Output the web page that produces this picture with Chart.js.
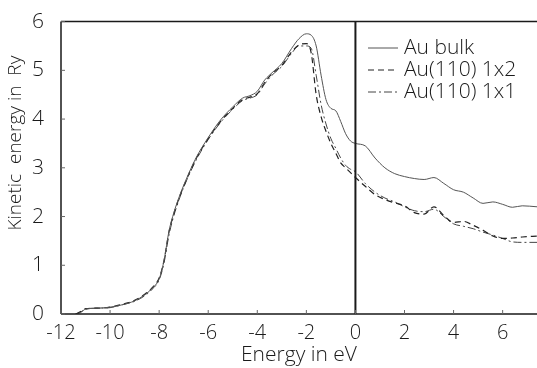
<!DOCTYPE html>
<html lang="en">
<head>
<meta charset="UTF-8">
<title>Kinetic energy vs energy</title>
<style>
  html, body { margin: 0; padding: 0; background: #fff; }
  #wrap { width: 537px; height: 368px; }
</style>
</head>
<body>
<div id="wrap"><canvas id="chart"></canvas></div>
<script src="https://cdn.jsdelivr.net/npm/chart.js"></script>
<script>
// energy grid (eV)
var energies = [-11.4, -11.2, -11.0, -10.5, -10.0, -9.5, -9.0, -8.6, -8.3, -8.0, -7.8, -7.6, -7.4, -7.2, -7.0,
  -6.5, -6.0, -5.5, -5.0, -4.6, -4.3, -4.0, -3.7, -3.4, -3.0, -2.6, -2.3, -2.0, -1.8, -1.6, -1.4, -1.2,
  -1.0, -0.8, -0.6, -0.4, -0.2, 0.0, 0.4, 0.8, 1.2, 1.6, 2.0, 2.4, 2.8, 3.2, 3.6, 4.0, 4.4, 4.8, 5.2,
  5.6, 6.0, 6.4, 6.8, 7.4];

// kinetic energy (Ry)
var auBulk = [0, 0.03, 0.10, 0.12, 0.14, 0.19, 0.27, 0.39, 0.52, 0.72, 1.10, 1.70, 2.08, 2.38, 2.64,
  3.20, 3.62, 3.98, 4.25, 4.43, 4.48, 4.57, 4.80, 4.95, 5.14, 5.45, 5.65, 5.75, 5.72, 5.50, 4.90, 4.40,
  4.22, 4.17, 3.95, 3.70, 3.55, 3.50, 3.45, 3.20, 3.00, 2.88, 2.82, 2.78, 2.76, 2.80, 2.68, 2.55, 2.50,
  2.38, 2.27, 2.30, 2.25, 2.19, 2.22, 2.20];
var au110_1x2 = [0, 0.05, 0.11, 0.12, 0.14, 0.20, 0.28, 0.40, 0.53, 0.74, 1.10, 1.68, 2.06, 2.36, 2.62,
  3.18, 3.60, 3.95, 4.22, 4.40, 4.45, 4.52, 4.75, 4.93, 5.10, 5.38, 5.52, 5.55, 5.35, 4.50, 4.05, 3.75,
  3.50, 3.30, 3.10, 3.00, 2.90, 2.80, 2.62, 2.45, 2.35, 2.28, 2.22, 2.08, 2.05, 2.20, 2.02, 1.88, 1.90,
  1.82, 1.72, 1.60, 1.55, 1.56, 1.58, 1.60];
var au110_1x1 = [0, 0.04, 0.10, 0.12, 0.13, 0.19, 0.26, 0.37, 0.50, 0.70, 1.05, 1.62, 2.02, 2.33, 2.60,
  3.15, 3.58, 3.93, 4.20, 4.38, 4.43, 4.50, 4.72, 4.90, 5.08, 5.35, 5.50, 5.50, 5.45, 4.90, 4.30, 3.90,
  3.60, 3.40, 3.20, 3.05, 2.97, 2.92, 2.68, 2.50, 2.38, 2.30, 2.20, 2.12, 2.10, 2.15, 2.00, 1.85, 1.80,
  1.75, 1.68, 1.62, 1.55, 1.48, 1.47, 1.47];

var xTicks = [-12, -10, -8, -6, -4, -2, 0, 2, 4, 6];
var yTicks = [0, 1, 2, 3, 4, 5, 6];
var labels = ["Au bulk", "Au(110) 1x2", "Au(110) 1x1"];

var FONT = "'Open Sans', 'DejaVu Sans', sans-serif";
var INK = '#1a1a1a';

function pts(ys) {
  return energies.map(function (e, i) { return { x: e, y: ys[i] }; });
}

// axes frame, zero line, inner ticks and the legend box
var frame = {
  id: 'frame',
  afterDatasetsDraw: function (chart) {
    var ctx = chart.ctx;
    var a = chart.chartArea;
    var xs = chart.scales.x, ys = chart.scales.y;
    ctx.save();
    ctx.strokeStyle = INK;
    ctx.lineWidth = 1.5;
    ctx.beginPath();
    ctx.moveTo(a.left, a.top); ctx.lineTo(a.right, a.top);
    ctx.moveTo(a.left, a.top); ctx.lineTo(a.left, a.bottom);
    ctx.moveTo(a.left, a.bottom); ctx.lineTo(a.right, a.bottom);
    ctx.stroke();

    ctx.lineWidth = 2;
    var x0 = xs.getPixelForValue(0);
    ctx.beginPath();
    ctx.moveTo(x0, a.top); ctx.lineTo(x0, a.bottom);
    ctx.stroke();

    ctx.lineWidth = 1;
    ctx.strokeStyle = '#666';
    ctx.beginPath();
    xTicks.forEach(function (v) {
      var px = xs.getPixelForValue(v);
      ctx.moveTo(px, a.bottom); ctx.lineTo(px, a.bottom - 4);
    });
    yTicks.forEach(function (v) {
      var py = ys.getPixelForValue(v);
      ctx.moveTo(a.left, py); ctx.lineTo(a.left + 4, py);
    });
    ctx.stroke();

    // legend
    var lx = 368, ly = 48, step = 22;
    ctx.font = '300 21px ' + FONT;
    ctx.textBaseline = 'middle';
    ctx.fillStyle = INK;
    chart.data.datasets.forEach(function (ds, i) {
      var y = ly + i * step;
      ctx.strokeStyle = ds.borderColor;
      ctx.lineWidth = 1;
      ctx.setLineDash(ds.borderDash || []);
      ctx.beginPath();
      ctx.moveTo(lx, y); ctx.lineTo(lx + 30, y);
      ctx.stroke();
      ctx.setLineDash([]);
      ctx.fillText(ds.label, lx + 36, y);
    });
    ctx.restore();
  }
};

new Chart(document.getElementById('chart'), {
  type: 'line',
  data: {
    datasets: [
      { label: labels[0], data: pts(auBulk), borderColor: '#555', borderWidth: 1, borderDash: [] },
      { label: labels[1], data: pts(au110_1x2), borderColor: '#222', borderWidth: 1.2, borderDash: [6, 4] },
      { label: labels[2], data: pts(au110_1x1), borderColor: '#444', borderWidth: 1, borderDash: [8, 3, 2, 3] }
    ]
  },
  options: {
    responsive: true,
    maintainAspectRatio: false,
    animation: false,
    layout: { padding: { top: 20, right: 0, left: 0, bottom: 0 } },
    elements: {
      point: { radius: 0 },
      line: { cubicInterpolationMode: 'monotone', fill: false }
    },
    plugins: {
      legend: { display: false },
      tooltip: { enabled: false }
    },
    scales: {
      x: {
        type: 'linear',
        min: -12,
        max: 7.4,
        afterFit: function (s) { s.height = 54; },
        afterBuildTicks: function (s) { s.ticks = xTicks.map(function (v) { return { value: v }; }); },
        grid: { display: false },
        border: { display: false },
        ticks: { color: INK, padding: 1, maxRotation: 0, font: { family: FONT, size: 20, weight: 300, lineHeight: 1 } },
        title: { display: true, text: 'Energy in eV', color: INK, padding: { top: 0, bottom: 0 },
          font: { family: FONT, size: 21, weight: 300 } }
      },
      y: {
        min: 0,
        max: 6,
        afterFit: function (s) { s.width = 61; },
        afterBuildTicks: function (s) { s.ticks = yTicks.map(function (v) { return { value: v }; }); },
        grid: { display: false },
        border: { display: false },
        ticks: { color: INK, padding: 9, font: { family: FONT, size: 21, weight: 300 } },
        title: { display: true, text: '          Kinetic  energy in  Ry', color: INK, padding: { top: 4, bottom: 0 },
          font: { family: FONT, size: 19, weight: 300 } }
      }
    }
  },
  plugins: [frame]
});
</script>
</body>
</html>
